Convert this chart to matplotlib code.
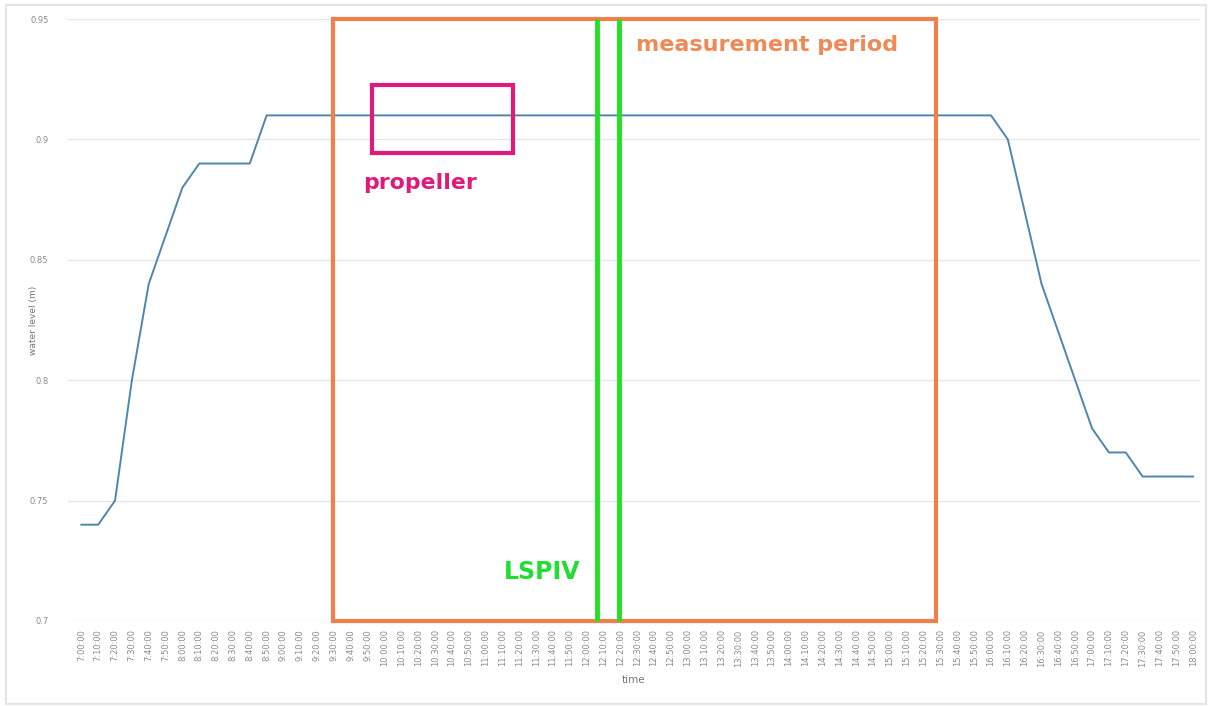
import matplotlib
matplotlib.use("Agg")
import matplotlib.pyplot as plt
from matplotlib.patches import Rectangle

# time axis: every 10 minutes from 7:00:00 to 18:00:00
times = ["%d:%02d:00" % (h, m) for h in range(7, 18) for m in range(0, 60, 10)] + ["18:00:00"]

water_level = [
    0.74, 0.74, 0.75, 0.80, 0.84, 0.86, 0.88, 0.89, 0.89, 0.89, 0.89, 0.91,
    0.91, 0.91, 0.91, 0.91, 0.91, 0.91, 0.91, 0.91, 0.91, 0.91,
    0.91, 0.91, 0.91, 0.91, 0.91, 0.91, 0.91, 0.91, 0.91, 0.91,
    0.91, 0.91, 0.91, 0.91, 0.91, 0.91, 0.91, 0.91, 0.91, 0.91,
    0.91, 0.91, 0.91, 0.91, 0.91, 0.91, 0.91, 0.91, 0.91, 0.91,
    0.91, 0.91, 0.91,
    0.90, 0.87, 0.84, 0.82, 0.80, 0.78, 0.77, 0.77, 0.76, 0.76, 0.76, 0.76,
]

y_ticks = [0.7, 0.75, 0.8, 0.85, 0.9, 0.95]
y_tick_labels = ["0.7", "0.75", "0.8", "0.85", "0.9", "0.95"]

fig = plt.figure(figsize=(12.12, 7.06), dpi=100)
ax = fig.add_axes([0.056, 0.1204, 0.934, 0.8526])

x = list(range(len(times)))
ax.plot(x, water_level, color="#4f86ae", lw=1.4, zorder=3)

ax.set_xlim(-0.8, 66.4)
ax.set_ylim(0.7, 0.95)
ax.set_xticks(x)
ax.set_xticklabels(times, rotation=90, fontsize=6, color="#8a8a8a")
ax.set_yticks(y_ticks)
ax.set_yticklabels(y_tick_labels, fontsize=6, color="#8a8a8a")
ax.tick_params(axis="x", length=0, pad=6)
ax.tick_params(axis="y", length=0, pad=14)
ax.grid(axis="y", color="#e6e6e6", lw=1)
ax.set_axisbelow(True)
for s in ax.spines.values():
    s.set_visible(False)
ax.set_xlabel("time", fontsize=7.5, color="#777777", labelpad=6)
ax.set_ylabel("water level (m)", fontsize=6.5, color="#777777", labelpad=-6)

# annotations
ax.add_patch(Rectangle((14.96, 0.70), 35.78, 0.25, fill=False, ec="#f0804a",
                       lw=3, clip_on=False, zorder=4))
ax.text(32.9, 0.9392, "measurement period", color="#ee8a57", fontsize=16,
        fontweight="bold", va="center", ha="left")

ax.add_patch(Rectangle((17.27, 0.8944), 8.37, 0.0282, fill=False, ec="#e0197d",
                       lw=3, zorder=4))
ax.text(16.75, 0.8819, "propeller", color="#e0197d", fontsize=15.8,
        fontweight="bold", va="center", ha="left")

for gx in [30.62, 31.93]:
    ax.plot([gx, gx], [0.70, 0.95], color="#22e022", lw=3.5, zorder=5,
            clip_on=False, solid_capstyle="butt")
ax.text(25.1, 0.7204, "LSPIV", color="#22dd33", fontsize=17,
        fontweight="bold", va="center", ha="left")

fig.patches.append(Rectangle((0.005, 0.003), 0.99, 0.99, transform=fig.transFigure,
                             fill=False, ec="#e4e4e4", lw=1.5))

fig.savefig("out.png", dpi=100)
